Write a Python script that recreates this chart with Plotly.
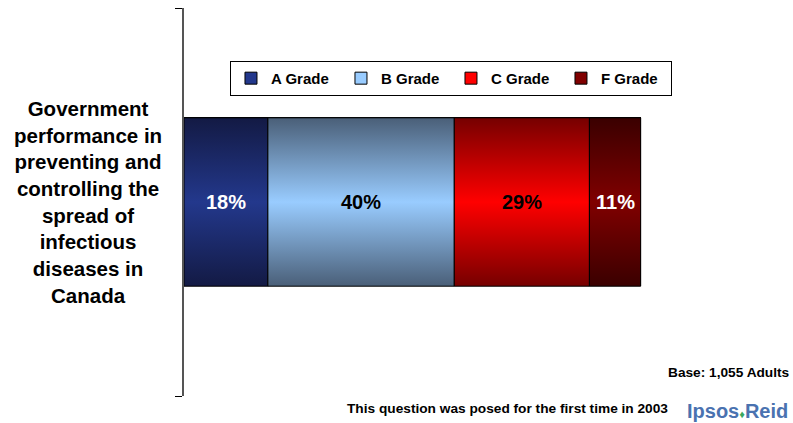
import plotly.graph_objects as go

# Survey result: grade given to government performance
grades = ["A Grade", "B Grade", "C Grade", "F Grade"]
shares = [18, 40, 29, 11]
edge_colors = ["#131a44", "#4a5f78", "#760000", "#3a0000"]
mid_colors = ["#23388c", "#99ccff", "#ff0000", "#800000"]
label_colors = ["white", "black", "black", "white"]
question = ("Government<br>performance in<br>preventing and<br>controlling the<br>"
            "spread of<br>infectious<br>diseases in<br>Canada")

BAR_HALF = 0.217  # half of the bar thickness in category units

fig = go.Figure()

# stacked horizontal bars (base colour + legend entries)
for g, v, cm in zip(grades, shares, mid_colors):
    fig.add_trace(go.Bar(
        x=[v], y=[0], orientation="h", name=g, width=2 * BAR_HALF,
        marker=dict(color=cm, line=dict(color="black", width=1)),
        hoverinfo="name+x",
    ))

# vertical shading on each segment plus its value label
start = 0
for g, v, ce, cm, lc in zip(grades, shares, edge_colors, mid_colors, label_colors):
    x0, x1 = start, start + v
    fig.add_trace(go.Scatter(
        x=[x0, x1, x1, x0, x0],
        y=[-BAR_HALF, -BAR_HALF, BAR_HALF, BAR_HALF, -BAR_HALF],
        mode="lines", fill="toself", showlegend=False,
        line=dict(color="black", width=1),
        fillgradient=dict(type="vertical",
                          colorscale=[[0, ce], [0.5, cm], [1, ce]]),
        hoverinfo="skip",
    ))
    fig.add_annotation(x=(x0 + x1) / 2, y=0, text=f"{v}%", showarrow=False,
                       font=dict(family="Arial", size=20, color=lc, weight="bold"))
    start = x1

fig.add_annotation(xref="paper", yref="y", x=-0.205, y=0, text=question,
                   showarrow=False, align="center", xanchor="center",
                   font=dict(family="Arial", size=20.5, color="black", weight="bold"))

fig.add_annotation(xref="paper", yref="paper", x=1.304, y=0.0593,
                   text="Base: 1,055 Adults", showarrow=False,
                   xanchor="right", yanchor="middle",
                   font=dict(family="Arial", size=13.7, color="black", weight="bold"))
fig.add_annotation(xref="paper", yref="paper", x=0.6935, y=-0.0335,
                   text="This question was posed for the first time in 2003",
                   showarrow=False, xanchor="center", yanchor="middle",
                   font=dict(family="Arial", size=13.7, color="black", weight="bold"))
fig.add_annotation(xref="paper", yref="paper", x=1.300, y=-0.0387,
                   text="Ipsos<span style='color:#3aa860;font-size:11px'>♦</span>Reid",
                   showarrow=False, xanchor="right", yanchor="middle",
                   font=dict(family="Arial", size=20, color="#4a72b0", weight="bold"))

fig.update_layout(
    width=793, height=423,
    margin=dict(l=184, r=143, t=8, b=27, autoexpand=False),
    paper_bgcolor="white", plot_bgcolor="white",
    font=dict(family="Arial", color="black"),
    barmode="stack", bargap=0,
    showlegend=True,
    legend=dict(orientation="h", xref="container", yref="container",
                x=0.29, y=0.856, xanchor="left", yanchor="top",
                bordercolor="black", borderwidth=1, bgcolor="white",
                font=dict(family="Arial", size=15, color="black", weight="bold"),
                itemwidth=30, entrywidth=65, entrywidthmode="pixels",
                tracegroupgap=0, traceorder="normal"),
    xaxis=dict(range=[0, 100], visible=False, fixedrange=True),
    yaxis=dict(range=[-0.5, 0.5], showgrid=False, zeroline=False,
               showline=True, linecolor="#555", linewidth=1.5,
               tickvals=[-0.5, 0.5], ticks="outside", ticklen=7,
               tickcolor="black", showticklabels=False, fixedrange=True),
)

fig.write_html("out.html")
